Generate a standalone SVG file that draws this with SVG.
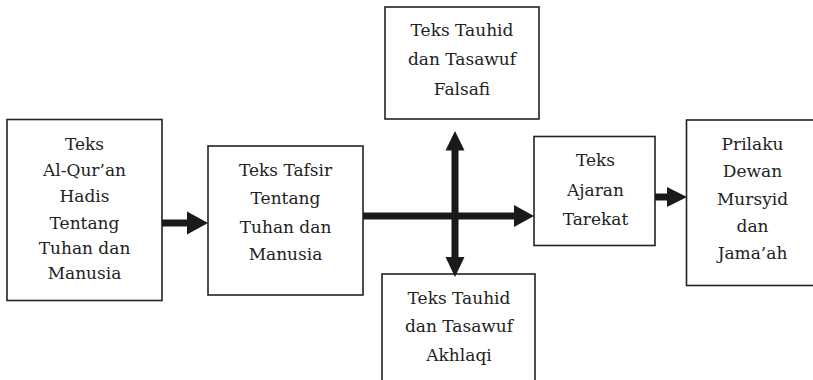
<svg xmlns="http://www.w3.org/2000/svg" width="813" height="380" viewBox="0 0 813 380">
<style>
.box{fill:#fff;stroke:#222;stroke-width:1.6}
.t{font-family:"DejaVu Serif","Liberation Serif",serif;font-size:17px;fill:#222;text-anchor:middle}
.sh{stroke:#1a1a1a;stroke-width:7;fill:none}
.hd{fill:#1a1a1a}
</style>
<rect width="813" height="380" fill="#fff"/>
<g id="n1">
<rect class="box" x="7" y="119.5" width="155" height="181"/>
<text class="t" x="84.5" y="149.5">Teks</text>
<text class="t" x="84.5" y="175.5">Al-Qur’an</text>
<text class="t" x="84.5" y="202">Hadis</text>
<text class="t" x="84.5" y="228.5">Tentang</text>
<text class="t" x="84.5" y="253.5">Tuhan dan</text>
<text class="t" x="84.5" y="278.5">Manusia</text>
</g>
<g id="n2">
<rect class="box" x="208" y="146" width="155" height="149"/>
<text class="t" x="285.5" y="175.5">Teks Tafsir</text>
<text class="t" x="285.5" y="204">Tentang</text>
<text class="t" x="285.5" y="232.5">Tuhan dan</text>
<text class="t" x="285.5" y="260">Manusia</text>
</g>
<g id="n3">
<rect class="box" x="385" y="7" width="154" height="112"/>
<text class="t" x="462" y="35.5">Teks Tauhid</text>
<text class="t" x="462" y="65">dan Tasawuf</text>
<text class="t" x="462" y="94.5">Falsafi</text>
</g>
<g id="n4">
<rect class="box" x="382" y="274" width="153" height="112"/>
<text class="t" x="459" y="303.5">Teks Tauhid</text>
<text class="t" x="459" y="332">dan Tasawuf</text>
<text class="t" x="459" y="360.5">Akhlaqi</text>
</g>
<g id="n5">
<rect class="box" x="534" y="136.5" width="121" height="109"/>
<text class="t" x="595.5" y="165.5">Teks</text>
<text class="t" x="595.5" y="195.5">Ajaran</text>
<text class="t" x="595.5" y="225">Tarekat</text>
</g>
<g id="n6">
<rect class="box" x="686.5" y="120" width="130" height="165.5"/>
<text class="t" x="752.5" y="149.5">Prilaku</text>
<text class="t" x="752.5" y="177">Dewan</text>
<text class="t" x="752.5" y="205">Mursyid</text>
<text class="t" x="752.5" y="231.5">dan</text>
<text class="t" x="752.5" y="258.5">Jama’ah</text>
</g>
<g id="connectors">
<line class="sh" x1="162" y1="223" x2="190" y2="223"/>
<polygon class="hd" points="187,211.5 208,223 187,234.5"/>
<line class="sh" x1="363" y1="216" x2="517" y2="216"/>
<polygon class="hd" points="514,205 534,216 514,227"/>
<line class="sh" x1="455" y1="148" x2="455" y2="259"/>
<polygon class="hd" points="445.5,150.5 455,131 464.5,150.5"/>
<polygon class="hd" points="445.5,257 455,277 464.5,257"/>
<line class="sh" x1="655" y1="197" x2="669" y2="197"/>
<polygon class="hd" points="667,187 687,197 667,207"/>
</g>
</svg>
